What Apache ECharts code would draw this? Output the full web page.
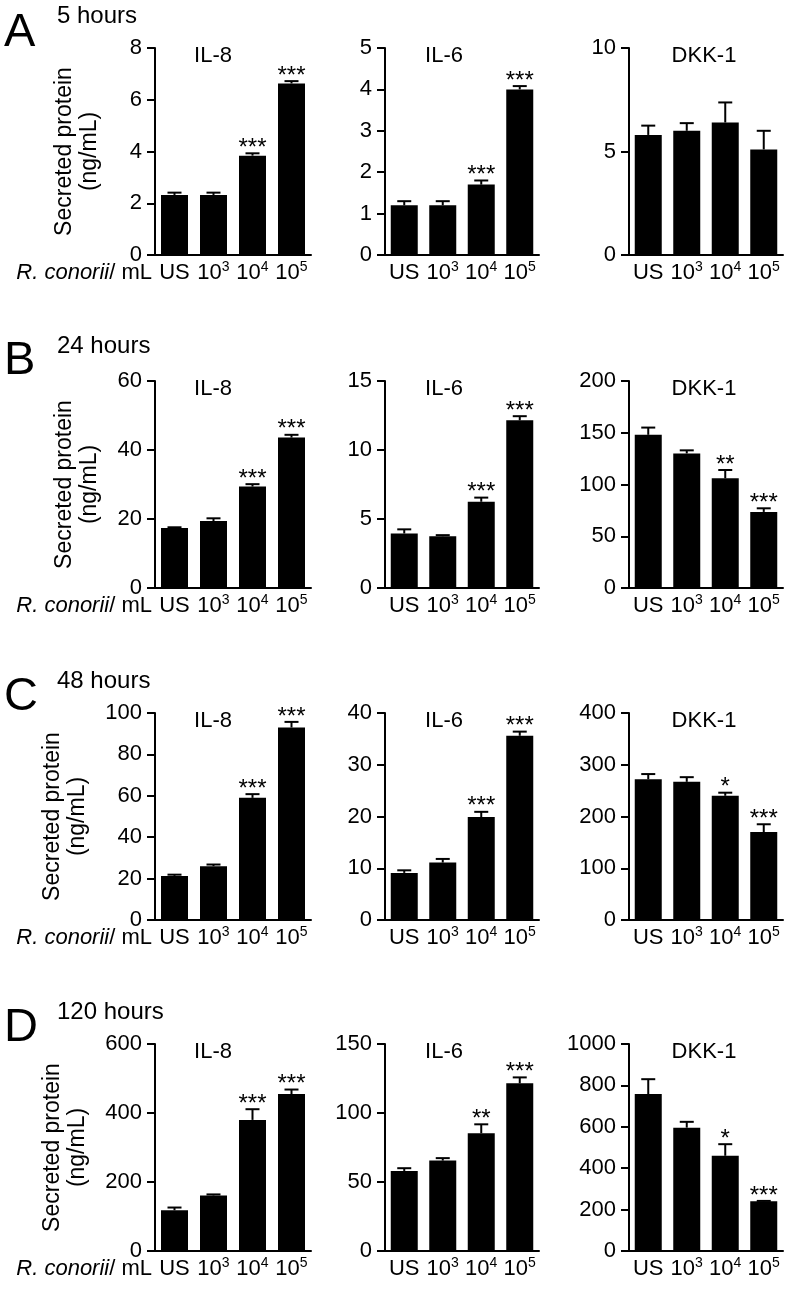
<!DOCTYPE html>
<html>
<head>
<meta charset="utf-8">
<script src="https://cdn.jsdelivr.net/npm/echarts@6/dist/echarts.min.js"></script>
<style>
  html, body { margin: 0; padding: 0; background: #fff; }
  #chart { width: 791px; height: 1290px; }
</style>
</head>
<body>
<div id="chart"></div>
<script>
// categories / labels
const categories = ['US', '10^3', '10^4', '10^5'];
const proteins = ['IL-8', 'IL-6', 'DKK-1'];
const timepoints = ['5 hours', '24 hours', '48 hours', '120 hours'];
const panelLetters = ['A', 'B', 'C', 'D'];

// values per protein: [IL-8, IL-6, DKK-1], ng/mL
const mean5h = [[2.32, 2.32, 3.84, 6.63], [1.2, 1.2, 1.7, 4.0], [5.8, 6.0, 6.4, 5.1]];
const err5h = [[0.09, 0.09, 0.09, 0.09], [0.1, 0.1, 0.1, 0.08], [0.45, 0.37, 0.97, 0.9]];
const stars5h = [['', '', '***', '***'], ['', '', '***', '***'], ['', '', '', '']];
const max5h = [8, 5, 10];
const step5h = [2, 1, 5];

const mean24h = [[17.4, 19.4, 29.4, 43.6], [3.95, 3.75, 6.25, 12.15], [148, 130, 106, 73.5]];
const err24h = [[0.2, 0.8, 0.7, 0.8], [0.3, 0.08, 0.3, 0.3], [7, 3, 8, 3.5]];
const stars24h = [['', '', '***', '***'], ['', '', '***', '***'], ['', '', '**', '***']];
const max24h = [60, 15, 200];
const step24h = [20, 5, 50];

const mean48h = [[21.3, 26, 59, 93], [9.1, 11.1, 19.9, 35.6], [272, 267, 240, 170]];
const err48h = [[0.6, 0.8, 1.8, 2.7], [0.5, 0.7, 1.0, 0.8], [10, 9, 6, 15]];
const stars48h = [['', '', '***', '***'], ['', '', '***', '***'], ['', '', '*', '***']];
const max48h = [100, 40, 400];
const step48h = [20, 10, 100];

const mean120h = [[118, 161, 380, 455], [58, 65.5, 85.3, 121.5], [758, 596, 460, 240]];
const err120h = [[8, 3, 31, 13], [2, 1.8, 6.5, 4.3], [72, 28, 56, 2]];
const stars120h = [['', '', '***', '***'], ['', '', '**', '***'], ['', '', '*', '***']];
const max120h = [600, 150, 1000];
const step120h = [200, 50, 200];

const means = [mean5h, mean24h, mean48h, mean120h];
const errs = [err5h, err24h, err48h, err120h];
const stars = [stars5h, stars24h, stars48h, stars120h];
const maxes = [max5h, max24h, max48h, max120h];
const steps = [step5h, step24h, step48h, step120h];

// layout
const FONT = '"Liberation Sans", Arial, sans-serif';
const colLeft = [155, 385, 629];
const colWidth = [156, 154, 154];
const rowTop = [48, 381, 713, 1044];
const plotH = 207;
const titleX = [213, 444, 704];
const nameGap = [53, 53, 65, 65];
const letterY = [33, 361, 697, 1028];
const hoursY = [16, 346, 681, 1012];

function errorBarItem(starList) {
  return function (params, api) {
    const cat = api.value(0), mean = api.value(1), err = api.value(2);
    const base = api.coord([cat, mean]);
    const tip = api.coord([cat, mean + err]);
    const style = { stroke: '#000', lineWidth: 2 };
    const children = [
      { type: 'line', shape: { x1: base[0], y1: base[1], x2: tip[0], y2: tip[1] }, style: style },
      { type: 'line', shape: { x1: tip[0] - 7, y1: tip[1], x2: tip[0] + 7, y2: tip[1] }, style: style }
    ];
    const s = starList[params.dataIndex];
    if (s) {
      children.push({
        type: 'text', x: tip[0], y: tip[1] - 5,
        style: { text: s, fontSize: 24, fontFamily: FONT, fill: '#000', align: 'center', verticalAlign: 'middle' }
      });
    }
    return { type: 'group', children: children };
  };
}

const grid = [], xAxis = [], yAxis = [], series = [], graphic = [];

for (let r = 0; r < 4; r++) {
  graphic.push({
    type: 'text', x: 4, y: letterY[r],
    style: { text: panelLetters[r], fontSize: 47, fontFamily: FONT, fill: '#000', verticalAlign: 'middle' }
  });
  graphic.push({
    type: 'text', x: 57, y: hoursY[r],
    style: { text: timepoints[r], fontSize: 24, fontFamily: FONT, fill: '#000', verticalAlign: 'middle' }
  });
  graphic.push({
    type: 'text', x: 152, y: rowTop[r] + plotH + 18,
    style: {
      text: '{i|R. conorii}/ mL', fontSize: 22, fontFamily: FONT, fill: '#000',
      align: 'right', verticalAlign: 'middle',
      rich: { i: { fontStyle: 'italic', fontSize: 22, fontFamily: FONT } }
    }
  });

  for (let c = 0; c < 3; c++) {
    const idx = r * 3 + c;
    grid.push({ left: colLeft[c], top: rowTop[r], width: colWidth[c], height: plotH });
    xAxis.push({
      type: 'category', gridIndex: idx, data: categories,
      axisLine: { lineStyle: { color: '#000', width: 2 } },
      axisTick: { show: false },
      axisLabel: {
        interval: 0, margin: 5, color: '#000',
        formatter: v => v.indexOf('10^') === 0 ? '{b|10}{s|' + v.slice(3) + '}' : '{b|' + v + '}',
        rich: {
          b: { fontSize: 22, lineHeight: 26, fontFamily: FONT, color: '#000' },
          s: { fontSize: 14, lineHeight: 14, fontFamily: FONT, color: '#000', verticalAlign: 'top' }
        }
      }
    });
    yAxis.push({
      type: 'value', gridIndex: idx, min: 0, max: maxes[r][c], interval: steps[r][c],
      name: c === 0 ? 'Secreted protein\n(ng/mL)' : '',
      nameLocation: 'middle', nameGap: nameGap[r],
      nameTextStyle: { fontSize: 23, fontFamily: FONT, color: '#000', lineHeight: 25 },
      axisLine: { show: true, lineStyle: { color: '#000', width: 2 } },
      axisTick: { show: true, length: 8, lineStyle: { color: '#000', width: 2 } },
      axisLabel: { fontSize: 22, fontFamily: FONT, color: '#000', margin: 13, formatter: v => String(v) },
      splitLine: { show: false }
    });
    graphic.push({
      type: 'text', x: titleX[c], y: rowTop[r] + 8,
      style: { text: proteins[c], fontSize: 22, fontFamily: FONT, fill: '#000', align: 'center', verticalAlign: 'middle' }
    });
    const m = means[r][c], e = errs[r][c];
    series.push({
      type: 'bar', xAxisIndex: idx, yAxisIndex: idx, data: m,
      barWidth: 27, itemStyle: { color: '#000' }, silent: true
    });
    series.push({
      type: 'custom', xAxisIndex: idx, yAxisIndex: idx, z: 3,
      data: m.map((v, i) => [i, v, e[i]]),
      encode: { x: 0, y: 1 },
      renderItem: errorBarItem(stars[r][c]), silent: true
    });
  }
}

const chart = echarts.init(document.getElementById('chart'));
chart.setOption({
  animation: false,
  backgroundColor: '#fff',
  textStyle: { fontFamily: FONT },
  grid: grid, xAxis: xAxis, yAxis: yAxis, series: series, graphic: graphic
});
</script>
</body>
</html>
